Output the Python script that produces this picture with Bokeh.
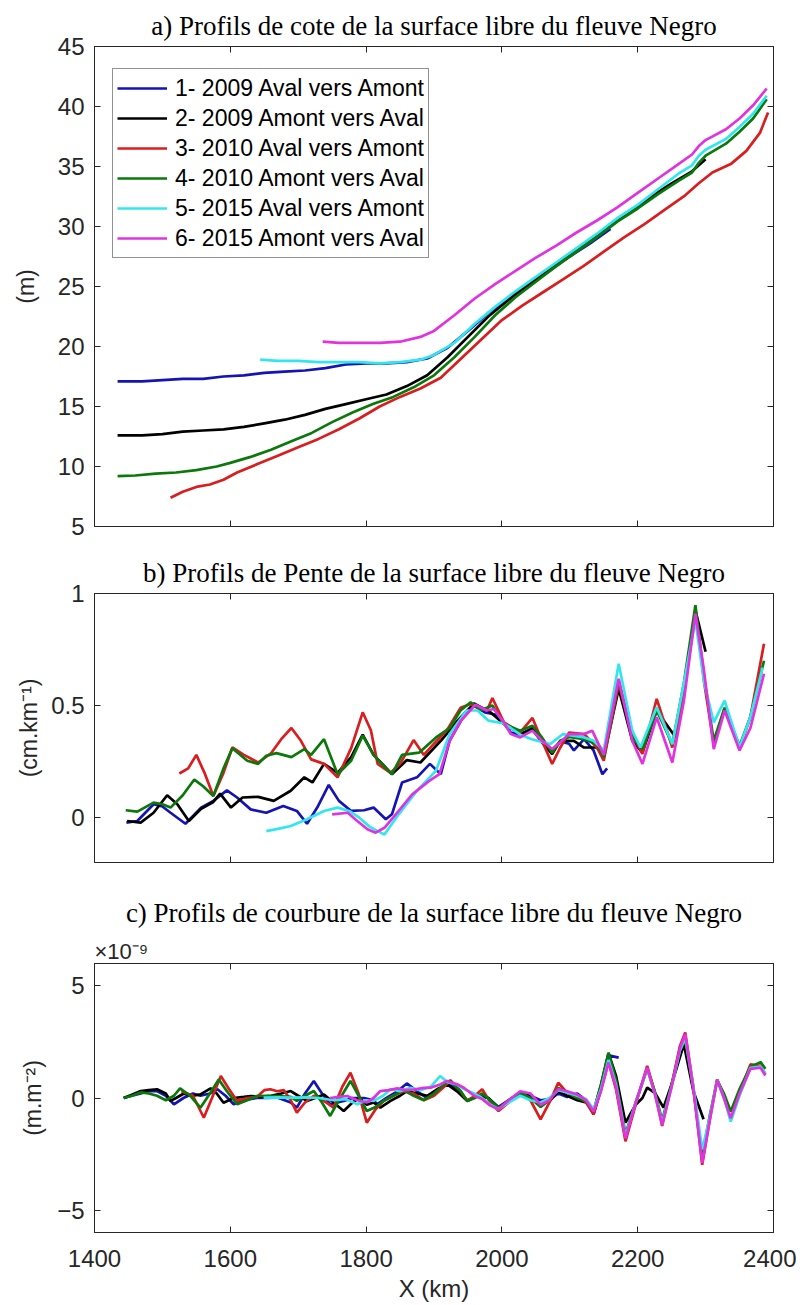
from bokeh.plotting import figure
from bokeh.models import (LinearAxis, Legend, LegendItem, FixedTicker, Range1d,
                          NumeralTickFormatter, Title)
from bokeh.layouts import column
from bokeh.embed import file_html
from bokeh.resources import INLINE

LABELS = ["1- 2009 Aval vers Amont", "2- 2009 Amont vers Aval", "3- 2010 Aval vers Amont",
          "4- 2010 Amont vers Aval", "5- 2015 Aval vers Amont", "6- 2015 Amont vers Aval"]
COLORS = ["#1414B4", "#000000", "#D81E1E", "#0A780A", "#33E6EE", "#E033E0"]

TITLE_A = "a) Profils de cote de la surface libre du fleuve Negro"
TITLE_B = "b) Profils de Pente de la surface libre du fleuve Negro"
TITLE_C = "c) Profils de courbure de la surface libre du fleuve Negro"
EXP_C = "\u00d710\u207b\u2079"

X_TICKS = [1400, 1600, 1800, 2000, 2200, 2400]
A_TICKS = [5, 10, 15, 20, 25, 30, 35, 40, 45]
B_TICKS = [0, 0.5, 1]
C_TICKS = [-5, 0, 5]

# ---------------- panel a : water surface elevation (m) ----------------
a1_x = [1434, 1470, 1500, 1530, 1560, 1590, 1620, 1650, 1680, 1710, 1740, 1770, 1800, 1830,
        1860, 1890, 1920, 1950, 1980, 2010, 2040, 2070, 2100, 2130, 2160]
a1_y = [17.1, 17.1, 17.2, 17.3, 17.3, 17.5, 17.6, 17.8, 17.9, 18.0, 18.2, 18.5, 18.6, 18.6,
        18.7, 19.0, 19.9, 21.3, 22.8, 24.0, 25.2, 26.3, 27.5, 28.6, 29.8]
a2_x = [1434, 1470, 1500, 1530, 1560, 1590, 1620, 1650, 1680, 1710, 1740, 1770, 1800, 1830,
        1860, 1890, 1920, 1950, 1980, 2010, 2040, 2070, 2100, 2130, 2160, 2190, 2220, 2250,
        2280, 2300]
a2_y = [12.6, 12.6, 12.7, 12.9, 13.0, 13.1, 13.3, 13.6, 13.9, 14.3, 14.8, 15.2, 15.6, 16.0,
        16.7, 17.6, 19.1, 20.8, 22.5, 23.9, 25.2, 26.5, 27.7, 28.9, 30.1, 31.2, 32.5, 33.6,
        34.6, 35.6]
a3_x = [1512, 1530, 1550, 1570, 1590, 1610, 1640, 1670, 1700, 1730, 1760, 1790, 1820, 1850,
        1880, 1910, 1940, 1970, 2000, 2030, 2060, 2090, 2120, 2150, 2180, 2210, 2240, 2270,
        2290, 2310, 2337, 2360, 2380, 2392]
a3_y = [7.4, 7.9, 8.3, 8.5, 8.9, 9.5, 10.2, 10.9, 11.6, 12.3, 13.1, 14.0, 15.0, 15.8,
        16.5, 17.4, 19.0, 20.6, 22.2, 23.4, 24.5, 25.6, 26.7, 27.9, 29.1, 30.2, 31.4, 32.6,
        33.6, 34.5, 35.2, 36.3, 37.8, 39.5]
a4_x = [1434, 1460, 1490, 1520, 1550, 1580, 1600, 1630, 1660, 1690, 1720, 1750, 1780, 1810,
        1840, 1870, 1900, 1930, 1960, 1990, 2020, 2050, 2080, 2110, 2140, 2170, 2200, 2230,
        2260, 2280, 2290, 2300, 2330, 2350, 2370, 2390]
a4_y = [9.2, 9.25, 9.4, 9.5, 9.7, 10.0, 10.3, 10.8, 11.4, 12.1, 12.8, 13.7, 14.5, 15.2,
        15.8, 16.6, 17.6, 19.1, 20.8, 22.6, 24.1, 25.4, 26.7, 27.9, 29.1, 30.4, 31.5, 32.7,
        33.8, 34.5, 35.3, 35.9, 36.9, 37.9, 39.0, 40.6]
a5_x = [1644, 1670, 1700, 1730, 1760, 1790, 1820, 1850, 1880, 1900, 1930, 1960, 1990, 2020,
        2050, 2080, 2110, 2140, 2170, 2200, 2230, 2260, 2280, 2290, 2300, 2330, 2350, 2370, 2390]
a5_y = [18.9, 18.8, 18.8, 18.7, 18.7, 18.7, 18.6, 18.7, 18.9, 19.3, 20.3, 21.9, 23.3, 24.6,
        25.8, 27.0, 28.2, 29.4, 30.7, 31.8, 33.1, 34.4, 35.1, 35.9, 36.4, 37.3, 38.3, 39.4, 40.9]
a6_x = [1736, 1760, 1790, 1820, 1850, 1880, 1900, 1930, 1960, 1990, 2020, 2050, 2080, 2110,
        2140, 2170, 2200, 2230, 2260, 2280, 2290, 2300, 2330, 2350, 2370, 2390]
a6_y = [20.4, 20.3, 20.3, 20.3, 20.4, 20.8, 21.3, 22.6, 24.0, 25.2, 26.3, 27.4, 28.4, 29.5,
        30.5, 31.6, 32.8, 34.0, 35.2, 36.0, 36.7, 37.2, 38.1, 39.0, 40.1, 41.5]

# ---------------- panel b : slope (cm/km) ----------------
b1_x = [1447, 1463, 1487, 1500, 1512, 1534, 1557, 1575, 1595, 1610, 1630, 1653, 1678, 1698,
        1713, 1728, 1745, 1760, 1778, 1797, 1811, 1829, 1838, 1853, 1875, 1894, 1910, 1923,
        1944, 1959, 1975, 1990, 2003, 2013, 2027, 2045, 2059, 2074, 2086, 2099, 2106, 2121,
        2135, 2148, 2155]
b1_y = [-0.022, -0.015, 0.06, 0.05, 0.022, -0.027, 0.045, 0.075, 0.122, 0.09, 0.037, 0.022,
        0.052, 0.03, -0.027, 0.045, 0.146, 0.075, 0.03, 0.033, 0.045, -0.007, 0.015, 0.157,
        0.18, 0.24, 0.194, 0.343, 0.455, 0.5, 0.47, 0.46, 0.42, 0.38, 0.37, 0.40, 0.343, 0.30,
        0.34, 0.33, 0.30, 0.35, 0.30, 0.194, 0.22]
b2_x = [1448, 1468, 1487, 1507, 1522, 1539, 1557, 1575, 1585, 1601, 1618, 1641, 1664, 1689,
        1709, 1721, 1738, 1758, 1778, 1795, 1811, 1827, 1838, 1860, 1880, 1910, 1934, 1959,
        1983, 2003, 2027, 2045, 2059, 2074, 2086, 2106, 2121, 2140, 2150, 2172, 2192, 2207,
        2228, 2256, 2270, 2285, 2300]
b2_y = [-0.015, -0.022, 0.022, 0.10, 0.06, -0.015, 0.04, 0.07, 0.107, 0.045, 0.09, 0.093,
        0.075, 0.12, 0.18, 0.157, 0.24, 0.2, 0.27, 0.37, 0.28, 0.23, 0.194, 0.257, 0.246,
        0.343, 0.43, 0.51, 0.47, 0.418, 0.373, 0.395, 0.336, 0.284, 0.343, 0.343, 0.313,
        0.313, 0.27, 0.575, 0.343, 0.29, 0.478, 0.358, 0.6, 0.925, 0.74]
b3_x = [1525, 1538, 1550, 1562, 1575, 1590, 1603, 1620, 1641, 1660, 1675, 1690, 1704, 1719,
        1738, 1758, 1778, 1795, 1807, 1817, 1836, 1850, 1870, 1885, 1900, 1919, 1939, 1954,
        1964, 1978, 1986, 2003, 2027, 2045, 2059, 2074, 2086, 2099, 2121, 2140, 2150, 2172,
        2192, 2207, 2228, 2251, 2268, 2285, 2298, 2312, 2328, 2350, 2366, 2386]
b3_y = [0.197, 0.22, 0.28, 0.2, 0.097, 0.2, 0.313, 0.28, 0.246, 0.287, 0.35, 0.40, 0.343,
        0.26, 0.24, 0.18, 0.31, 0.47, 0.39, 0.24, 0.20, 0.24, 0.346, 0.28, 0.33, 0.39, 0.49,
        0.507, 0.49, 0.478, 0.534, 0.425, 0.38, 0.445, 0.343, 0.24, 0.313, 0.38, 0.373,
        0.313, 0.254, 0.597, 0.373, 0.284, 0.53, 0.313, 0.55, 0.925, 0.6, 0.328, 0.49, 0.306,
        0.45, 0.776]
b4_x = [1446, 1463, 1487, 1500, 1512, 1530, 1547, 1560, 1575, 1590, 1603, 1625, 1641, 1653,
        1668, 1690, 1709, 1719, 1738, 1758, 1778, 1795, 1811, 1821, 1838, 1853, 1878, 1903,
        1923, 1939, 1954, 1970, 1986, 2003, 2027, 2045, 2059, 2074, 2086, 2099, 2121, 2140,
        2150, 2172, 2192, 2207, 2228, 2251, 2268, 2285, 2298, 2312, 2328, 2350, 2366, 2386]
b4_y = [0.033, 0.027, 0.067, 0.06, 0.045, 0.1, 0.17, 0.14, 0.097, 0.22, 0.31, 0.254, 0.24,
        0.276, 0.288, 0.27, 0.306, 0.28, 0.35, 0.194, 0.254, 0.366, 0.28, 0.246, 0.194, 0.28,
        0.29, 0.358, 0.40, 0.478, 0.515, 0.48, 0.5, 0.418, 0.388, 0.41, 0.358, 0.29, 0.343,
        0.36, 0.35, 0.328, 0.27, 0.612, 0.36, 0.306, 0.478, 0.328, 0.6, 0.948, 0.62, 0.343,
        0.49, 0.32, 0.45, 0.70]
b5_x = [1653, 1670, 1689, 1713, 1738, 1758, 1775, 1790, 1805, 1817, 1827, 1848, 1875, 1903,
        1923, 1948, 1964, 1980, 2003, 2013, 2027, 2044, 2071, 2090, 2121, 2135, 2150, 2172,
        2192, 2204, 2228, 2251, 2268, 2285, 2298, 2312, 2328, 2350, 2366, 2384]
b5_y = [-0.06, -0.05, -0.037, -0.007, 0.03, 0.045, 0.03, 0.0, -0.04, -0.06, -0.075, 0.015,
        0.12, 0.21, 0.373, 0.478, 0.478, 0.433, 0.42, 0.40, 0.37, 0.35, 0.328, 0.373, 0.358,
        0.343, 0.30, 0.687, 0.388, 0.313, 0.493, 0.328, 0.6, 0.88, 0.6, 0.425, 0.522, 0.313,
        0.45, 0.67]
b6_x = [1750, 1773, 1787, 1802, 1814, 1827, 1848, 1868, 1893, 1908, 1923, 1939, 1961, 1978,
        1988, 2003, 2013, 2027, 2045, 2059, 2074, 2086, 2099, 2121, 2133, 2150, 2172, 2192,
        2207, 2228, 2251, 2268, 2285, 2297, 2312, 2328, 2350, 2366, 2386]
b6_y = [0.015, 0.022, -0.015, -0.052, -0.067, -0.045, 0.03, 0.104, 0.164, 0.194, 0.343,
        0.43, 0.504, 0.478, 0.485, 0.425, 0.373, 0.358, 0.388, 0.343, 0.306, 0.336, 0.373,
        0.373, 0.388, 0.28, 0.62, 0.343, 0.24, 0.448, 0.246, 0.52, 0.91, 0.67, 0.306, 0.478,
        0.30, 0.40, 0.642]

# ---------------- panel c : curvature (x 1e-9 m/m^2) ----------------
c1_x = [1443, 1455, 1468, 1480, 1492, 1505, 1517, 1531, 1545, 1556, 1570, 1581, 1593, 1605,
        1620, 1639, 1654, 1669, 1689, 1698, 1710, 1723, 1735, 1747, 1767, 1780, 1797, 1811,
        1816, 1830, 1846, 1860, 1875, 1890, 1905, 1920, 1935, 1949, 1965, 1980, 1995, 2010,
        2027, 2042, 2057, 2070, 2083, 2096, 2111, 2124, 2135, 2146, 2157, 2172]
c1_y = [0.0, 0.1, 0.2, 0.3, 0.31, 0.1, -0.28, 0.0, 0.2, 0.1, 0.2, 0.39, 0.1, -0.28, -0.1,
        0.0, 0.0, 0.02, -0.2, -0.43, 0.2, 0.76, 0.2, -0.28, -0.13, 0.0, 0.0, -0.1, -0.28, 0.0,
        0.3, 0.65, 0.3, 0.0, 0.3, 0.7, 0.3, -0.1, 0.1, 0.0, -0.4, -0.1, 0.2, 0.1, -0.1, -0.05,
        0.2, 0.05, 0.2, -0.1, -0.73, 0.4, 1.9, 1.8]
c2_x = [1443, 1455, 1468, 1480, 1492, 1505, 1512, 1520, 1531, 1545, 1556, 1571, 1580, 1590,
        1605, 1620, 1630, 1645, 1660, 1675, 1689, 1700, 1713, 1725, 1738, 1752, 1767, 1780,
        1790, 1801, 1811, 1821, 1836, 1850, 1860, 1875, 1890, 1905, 1920, 1934, 1949, 1965,
        1980, 1995, 2010, 2027, 2042, 2057, 2070, 2083, 2096, 2111, 2124, 2135, 2146, 2157,
        2168, 2182, 2197, 2207, 2214, 2226, 2238, 2252, 2268, 2282, 2297]
c2_y = [0.0, 0.15, 0.31, 0.35, 0.39, 0.2, -0.13, 0.0, 0.19, 0.1, 0.16, 0.43, 0.2, -0.21,
        0.0, 0.05, 0.09, 0.05, 0.1, 0.2, 0.31, 0.1, -0.13, 0.0, 0.16, -0.2, -0.58, -0.2, 0.0,
        -0.3, -0.2, -0.43, -0.13, 0.1, 0.31, 0.2, 0.1, 0.4, 0.6, 0.3, -0.13, 0.1, 0.0, -0.45,
        -0.15, 0.2, 0.05, -0.2, -0.15, 0.3, 0.1, -0.1, -0.2, -0.6, 0.6, 2.0, 1.0, -1.1, -0.3,
        0.0, 0.46, 0.2, -0.43, 0.8, 2.4, 0.3, -0.95]
c3_x = [1528, 1545, 1561, 1573, 1586, 1598, 1610, 1625, 1639, 1650, 1659, 1669, 1679, 1689,
        1698, 1710, 1723, 1738, 1752, 1765, 1777, 1789, 1801, 1814, 1826, 1840, 1855, 1870,
        1885, 1900, 1915, 1924, 1939, 1949, 1960, 1971, 1983, 1995, 2010, 2027, 2042, 2057,
        2070, 2083, 2096, 2111, 2124, 2135, 2145, 2157, 2168, 2182, 2197, 2214, 2225, 2236,
        2250, 2262, 2270, 2282, 2295, 2306, 2317, 2327, 2337, 2350, 2366, 2381, 2388]
c3_y = [0.3, 0.1, -0.88, 0.0, 0.98, 0.4, -0.13, 0.0, 0.05, 0.35, 0.39, 0.3, 0.35, -0.1,
        -0.65, -0.2, 0.1, -0.13, -0.43, 0.5, 1.13, 0.2, -1.1, -0.5, -0.13, 0.1, 0.3, 0.2,
        -0.1, 0.1, 0.5, 0.8, 0.31, -0.13, 0.1, 0.39, -0.2, -0.58, -0.2, 0.24, -0.1, -0.95,
        -0.2, 0.68, 0.24, 0.09, -0.2, -0.73, 0.3, 1.6, 0.4, -1.93, -0.3, 1.43, 0.3, -1.25,
        0.6, 2.3, 2.92, 0.5, -2.98, -1.0, 0.83, 0.1, -0.95, 0.2, 1.5, 1.43, 1.06]
c4_x = [1443, 1455, 1468, 1480, 1492, 1505, 1517, 1526, 1541, 1556, 1570, 1583, 1595, 1610,
        1625, 1639, 1654, 1669, 1689, 1698, 1710, 1723, 1735, 1747, 1760, 1777, 1789, 1801,
        1814, 1826, 1840, 1855, 1870, 1885, 1900, 1915, 1924, 1939, 1949, 1960, 1971, 1983,
        1995, 2010, 2027, 2042, 2057, 2070, 2083, 2096, 2111, 2124, 2135, 2146, 2157, 2168,
        2182, 2197, 2214, 2225, 2236, 2250, 2262, 2270, 2282, 2295, 2306, 2317, 2327, 2337,
        2350, 2366, 2381, 2388]
c4_y = [0.0, 0.1, 0.25, 0.2, 0.1, -0.1, 0.1, 0.43, 0.1, -0.43, 0.2, 0.83, 0.3, -0.28, -0.1,
        0.09, 0.1, 0.09, 0.05, -0.13, 0.1, 0.31, -0.2, -0.8, -0.1, 0.76, 0.1, -0.58, -0.4,
        -0.13, 0.1, 0.35, 0.1, -0.1, 0.2, 0.6, 0.75, 0.31, -0.13, 0.0, 0.2, -0.1, -0.45, -0.1,
        0.24, 0.0, -0.4, -0.1, 0.45, 0.25, 0.0, -0.15, -0.6, 0.6, 2.02, 0.8, -1.6, -0.2, 1.3,
        0.3, -1.0, 0.6, 2.1, 2.6, 0.4, -2.6, -0.8, 0.8, 0.2, -0.6, 0.4, 1.4, 1.6, 1.3]
c5_x = [1649, 1670, 1690, 1710, 1730, 1752, 1770, 1787, 1800, 1811, 1825, 1836, 1850, 1865,
        1880, 1895, 1909, 1920, 1934, 1944, 1959, 1971, 1983, 1995, 2010, 2027, 2042, 2057,
        2070, 2083, 2096, 2111, 2124, 2135, 2146, 2157, 2168, 2182, 2197, 2214, 2225, 2236,
        2250, 2262, 2270, 2282, 2295, 2306, 2317, 2327, 2337, 2350, 2366, 2381, 2388]
c5_y = [0.02, 0.03, 0.02, 0.03, 0.0, -0.1, -0.05, -0.28, -0.1, -0.13, 0.1, 0.39, 0.3, 0.46,
        0.35, 0.5, 0.98, 0.7, 0.6, 0.4, 0.2, 0.0, -0.3, -0.5, -0.2, 0.1, -0.1, -0.2, 0.0,
        0.35, 0.25, 0.1, -0.05, -0.5, 0.4, 1.7, 0.6, -1.7, -0.2, 1.3, 0.2, -1.1, 0.5, 2.1,
        2.7, 0.5, -2.3, -0.9, 0.8, 0.0, -1.05, 0.1, 1.35, 1.4, 1.1]
c6_x = [1747, 1760, 1772, 1787, 1801, 1811, 1821, 1833, 1846, 1858, 1870, 1885, 1895, 1909,
        1919, 1934, 1944, 1959, 1971, 1983, 1995, 2010, 2027, 2042, 2057, 2070, 2083, 2096,
        2111, 2124, 2135, 2146, 2157, 2168, 2182, 2197, 2214, 2225, 2236, 2250, 2262, 2270,
        2282, 2295, 2306, 2317, 2327, 2337, 2350, 2366, 2381, 2388]
c6_y = [0.0, 0.05, 0.09, -0.1, -0.2, 0.0, 0.31, 0.35, 0.43, 0.35, 0.38, 0.45, 0.46, 0.6,
        0.76, 0.61, 0.46, 0.1, -0.05, -0.34, -0.5, -0.1, 0.3, 0.2, -0.3, -0.1, 0.4, 0.3, 0.15,
        -0.1, -0.6, 0.3, 1.58, 0.5, -1.8, -0.2, 1.35, 0.2, -1.2, 0.5, 2.2, 2.85, 0.4, -2.9,
        -1.0, 0.8, 0.0, -0.9, 0.2, 1.3, 1.35, 1.0]

AXC = "#262626"
FRAME_W = 679
LW = 2.7


def style_axis(ax, ticks, show_labels):
    ax.ticker = FixedTicker(ticks=ticks)
    ax.major_tick_in = 6
    ax.major_tick_out = 0
    ax.minor_tick_line_color = None
    ax.axis_line_color = AXC
    ax.major_tick_line_color = AXC
    ax.major_label_text_font = "Liberation Sans"
    if show_labels:
        ax.major_label_text_font_size = "24px"
        ax.major_label_text_color = AXC
    else:
        ax.major_label_text_font_size = "1px"
        ax.major_label_text_color = None
        ax.major_label_standoff = 0
    ax.axis_label_text_font = "Liberation Sans"
    ax.axis_label_text_font_size = "23px"
    ax.axis_label_text_font_style = "normal"
    ax.axis_label_text_color = AXC


def make_title(text, standoff, align="center", size="27px", font="Liberation Serif",
               color="#000000"):
    return Title(text=text, align=align, text_font=font, text_font_size=size,
                 text_font_style="normal", text_color=color, standoff=standoff)


def make_panel(ylabel, ylim, yticks, frame_h, top, bottom, xlabels, ylab_standoff):
    p = figure(frame_width=FRAME_W, frame_height=frame_h, title=None,
               x_range=Range1d(1400, 2400), y_range=Range1d(*ylim),
               output_backend="svg", toolbar_location=None,
               min_border_left=94, min_border_right=23,
               min_border_top=top, min_border_bottom=bottom)
    p.xgrid.visible = False
    p.ygrid.visible = False
    p.outline_line_color = AXC
    p.background_fill_color = "white"
    p.border_fill_color = "white"
    xb = p.xaxis[0]
    yl = p.yaxis[0]
    style_axis(xb, X_TICKS, xlabels)
    style_axis(yl, yticks, True)
    xb.major_label_standoff = 17 if xlabels else 0
    yl.major_label_standoff = 10
    yl.axis_label = ylabel
    yl.axis_label_standoff = ylab_standoff
    top_ax = LinearAxis()
    style_axis(top_ax, X_TICKS, False)
    p.add_layout(top_ax, "above")
    right_ax = LinearAxis()
    style_axis(right_ax, yticks, False)
    p.add_layout(right_ax, "right")
    return p, xb, yl


# ---- panel a
pa, xa_bot, ya_left = make_panel("(m)", (5, 45), A_TICKS, 480, 46, 14, False, 16)
pa.add_layout(make_title(TITLE_A, 12), "above")
ra = []
for xs, ys, c in zip([a1_x, a2_x, a3_x, a4_x, a5_x, a6_x],
                     [a1_y, a2_y, a3_y, a4_y, a5_y, a6_y], COLORS):
    ra.append(pa.line(xs, ys, line_color=c, line_width=LW))
legend = Legend(items=[LegendItem(label=l, renderers=[r]) for l, r in zip(LABELS, ra)],
                location=(18, 268))
legend.label_text_font = "Liberation Sans"
legend.label_text_font_size = "23px"
legend.label_text_color = "#000000"
legend.label_height = 30
legend.glyph_height = 30
legend.glyph_width = 50
legend.label_standoff = 8
legend.spacing = 0
legend.padding = 4
legend.margin = 0
legend.border_line_color = AXC
legend.border_line_width = 1
legend.background_fill_alpha = 1.0
pa.add_layout(legend)

# ---- panel b
pb, xb_bot, yb_left = make_panel("(cm.km\u207b\u00b9)", (-0.2, 1), B_TICKS, 269, 53, 23,
                                 False, 6)
pb.add_layout(make_title(TITLE_B, 11), "above")
yb_left.formatter = NumeralTickFormatter(format="0.[0]")
for xs, ys, c in zip([b1_x, b2_x, b3_x, b4_x, b5_x, b6_x],
                     [b1_y, b2_y, b3_y, b4_y, b5_y, b6_y], COLORS):
    pb.line(xs, ys, line_color=c, line_width=LW)

# ---- panel c
pc, xc_bot, yc_left = make_panel("(m.m\u207b\u00b2)", (-6, 6), C_TICKS, 269, 78, 73, True, 8)
pc.add_layout(make_title(EXP_C, 0, align="left", size="22px", font="Liberation Sans",
                         color=AXC), "above")
pc.add_layout(make_title(TITLE_C, 17), "above")
xc_bot.axis_label = "X (km)"
xc_bot.axis_label_text_font_size = "24px"
xc_bot.axis_label_standoff = 5
for xs, ys, c in zip([c1_x, c2_x, c3_x, c4_x, c5_x, c6_x],
                     [c1_y, c2_y, c3_y, c4_y, c5_y, c6_y], COLORS):
    pc.line(xs, ys, line_color=c, line_width=LW)

layout = column(pa, pb, pc)
open("out.html", "w").write(file_html(layout, INLINE))
